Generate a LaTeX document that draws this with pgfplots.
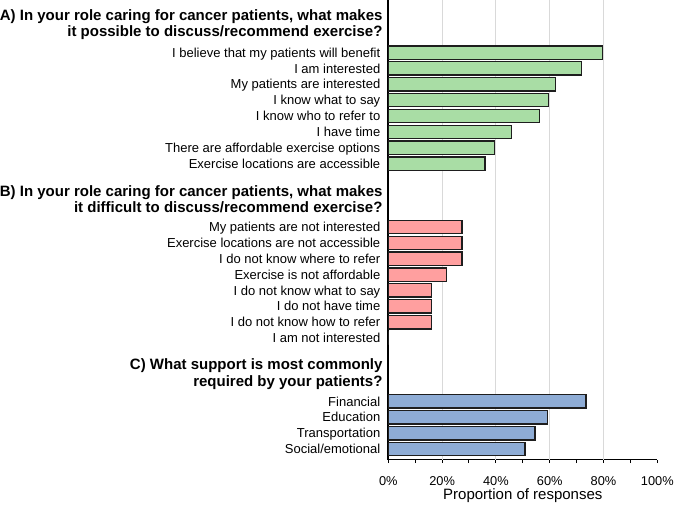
\documentclass[border=0pt]{standalone}
\usepackage{pgfplots}
\pgfplotsset{compat=1.18}
\usepackage{fontspec}
\setmainfont{Liberation Sans}

\definecolor{barA}{RGB}{169,221,165}
\definecolor{barB}{RGB}{255,159,159}
\definecolor{barC}{RGB}{142,172,213}
\definecolor{edge}{RGB}{30,30,30}

\begin{document}
\begin{tikzpicture}
\useasboundingbox (-388.3pt,-52.5pt) rectangle (285.7pt,459.5pt);
\begin{axis}[
  at={(0,0)}, anchor=south west,
  scale only axis,
  width=269pt, height=459.5pt,
  xmin=0, xmax=100,
  ymin=-28.66, ymax=0.315,
  clip=false,
  xbar, bar shift=0pt, bar width=0.84,
  axis x line*=bottom, axis y line*=left,
  axis line style={line width=1.8pt, black, -},
  xtick={0,20,...,100},
  minor x tick num=1,
  tick align=outside,
  xtick style={black, line width=1pt},
  major tick length=3.5pt, minor tick length=3.5pt,
  extra x ticks={20,40,60,80},
  extra x tick labels={},
  extra x tick style={grid=major, major tick length=0pt},
  grid style={gray!30, line width=0.9pt},
  /pgf/number format/assume math mode=true,
  xticklabel={\pgfmathprintnumber{\tick}\%},
  xticklabel style={font=\fontsize{12.8}{15}\selectfont, anchor=base, yshift=-22pt},
  xlabel={Proportion of responses},
  xlabel style={font=\fontsize{15}{18}\selectfont, at={(axis description cs:0.5,0)}, anchor=base, yshift=-39.5pt},
  ytick={-3,-4,-5,-6,-7,-8,-9,-10,
         -14,-15,-16,-17,-18,-19,-20,-21,
         -25,-26,-27,-28},
  yticklabels={
    I believe that my patients will benefit,
    I am interested,
    My patients are interested,
    I know what to say,
    I know who to refer to,
    I have time,
    There are affordable exercise options,
    Exercise locations are accessible,
    My patients are not interested,
    Exercise locations are not accessible,
    I do not know where to refer,
    Exercise is not affordable,
    I do not know what to say,
    I do not have time,
    I do not know how to refer,
    I am not interested,
    Financial,
    Education,
    Transportation,
    Social/emotional},
  ytick style={draw=none},
  yticklabel style={font=\fontsize{13}{15.6}\selectfont, anchor=base east, yshift=-4.65pt, xshift=-1pt},
]
% A) enablers
\addplot[xbar, bar shift=0pt, fill=barA, draw=edge, line width=1.35pt] coordinates {
  (79.7,-3) (71.8,-4) (62.2,-5) (59.6,-6) (56.1,-7) (45.7,-8) (39.4,-9) (36.0,-10)
};
% B) barriers
\addplot[xbar, bar shift=0pt, fill=barB, draw=edge, line width=1.35pt] coordinates {
  (27.4,-14) (27.4,-15) (27.4,-16) (21.7,-17) (16.1,-18) (16.1,-19) (16.1,-20) (0,-21)
};
% C) support needed
\addplot[xbar, bar shift=0pt, fill=barC, draw=edge, line width=1.35pt] coordinates {
  (73.5,-25) (59.2,-26) (54.5,-27) (50.8,-28)
};
% section headings
\begin{scope}[every node/.style={font=\fontsize{15}{18}\selectfont\bfseries, anchor=base east, inner sep=0pt, xshift=-5.6pt}]
\node at (axis cs:0,-1) {A) In your role caring for cancer patients, what makes};
\node at (axis cs:0,-2) {it possible to discuss/recommend exercise?};
\node at (axis cs:0,-12.1) {B) In your role caring for cancer patients, what makes};
\node at (axis cs:0,-13.1) {it difficult to discuss/recommend exercise?};
\node at (axis cs:0,-23) {C) What support is most commonly};
\node at (axis cs:0,-24.05) {required by your patients?};
\end{scope}
\end{axis}
\end{tikzpicture}
\end{document}
